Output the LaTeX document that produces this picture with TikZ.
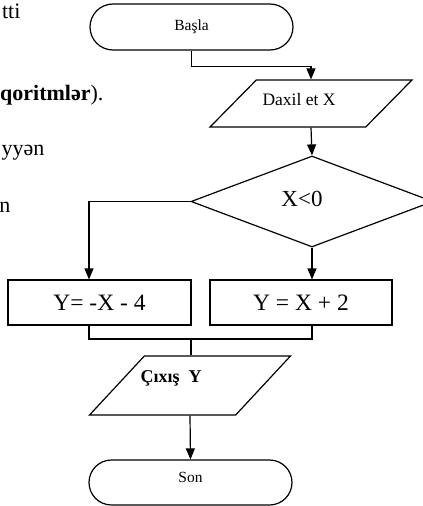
\documentclass[tikz,border=0pt]{standalone}
\usepackage{fontspec}
\setmainfont{Liberation Serif}
\usetikzlibrary{shapes.geometric,shapes.misc,arrows.meta}

\begin{document}
\begin{tikzpicture}[x=1pt,y=-1pt,line width=1.2pt,
  arr/.style={-{Triangle[length=11pt,width=9pt]}},
  term/.style={draw,rounded rectangle,minimum width=203pt,inner sep=0pt,font=\fontsize{15.5}{18}\selectfont},
  iobox/.style={draw,trapezium,trapezium stretches=true,inner sep=0pt},
  proc/.style={draw,rectangle,minimum width=183pt,minimum height=45pt,inner sep=0pt,font=\fontsize{23.5}{28}\selectfont},
  txt/.style={inner sep=0pt,anchor=base east,font=\fontsize{22}{27}\selectfont}]
\useasboundingbox (0,0) rectangle (423,506);
\clip (0,0) rectangle (423,506);

% bits of the page text
\node[txt] (t1) at (21,18) {tti};
\node[txt] (t2) at (104,100) {\textbf{qoritmlər}).};
\node[txt] (t3) at (45,155) {yyən};
\node[txt] (t4) at (11,212) {n};

% blocks
\node[term,minimum height=46pt] (start) at (191.5,27) {Başla};
\node[iobox,minimum width=202pt,minimum height=47pt,trapezium left angle=65,trapezium right angle=115,
  label={[font=\fontsize{17.5}{21}\selectfont,xshift=-12pt,yshift=4pt]center:Daxil et X}] (inp) at (311,103.5) {\phantom{X}};
\node[draw,diamond,minimum width=242pt,minimum height=91pt,inner sep=0pt,
  label={[font=\fontsize{23}{28}\selectfont,xshift=-10pt,yshift=3pt]center:X<0}] (cond) at (312,201.5) {\phantom{X}};
\node[proc] (neg) at (99.5,302.5) {Y= -X - 4};
\node[proc,minimum width=182pt] (pos) at (301,302.5) {Y = X + 2};
\node[iobox,minimum width=201pt,minimum height=59pt,trapezium left angle=56.5,trapezium right angle=123.5] (out) at (190,385.5) {\phantom{X}};
\node[inner sep=0pt,anchor=base west,font=\bfseries\fontsize{18}{21}\selectfont] (outtxt) at (140,382) {Çıxış\ \ Y};
\node[term,minimum height=45pt,label={[font=\fontsize{15.5}{18}\selectfont,yshift=5pt]center:Son}] (stop) at (190.5,482.5) {\phantom{S}};

% connectors
\coordinate (join) at (191,339);
\draw[arr] (start.south) -- ++(0,16) -| (inp.north);
\draw[arr] (inp.south) -- (cond.north);
\draw[arr] (cond.west) -| ([xshift=-10.5pt]neg.north);
\draw[arr] (cond.south) -- (cond.south |- pos.north);
\draw ([xshift=-10.5pt]neg.south) |- (join) -| (cond.south |- pos.south);
\draw (join) -- (join |- out.north);
\draw[arr] (out.south) -- (stop.north);
\end{tikzpicture}
\end{document}
